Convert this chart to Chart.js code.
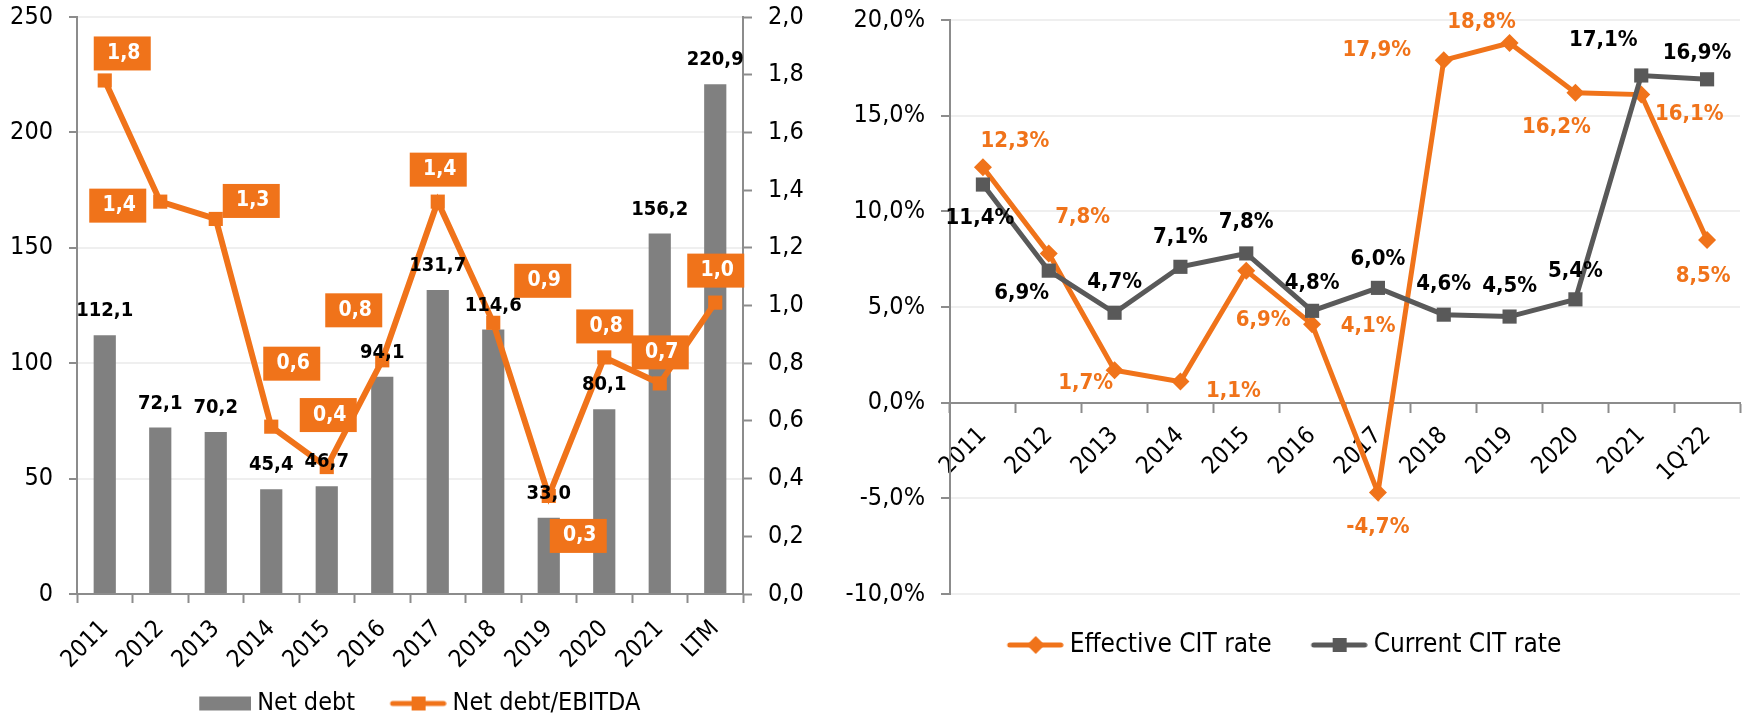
<!DOCTYPE html>
<html>
<head>
<meta charset="utf-8">
<script src="https://cdn.jsdelivr.net/npm/chart.js@4.4.1/dist/chart.umd.min.js"></script>
<style>
  html, body { margin: 0; padding: 0; background: #fff; overflow: hidden; }
  #left { position: absolute; left: 0; top: 0; width: 810px; height: 726px; }
  #right { position: absolute; left: 827px; top: 0; width: 935px; height: 718px; }
</style>
</head>
<body>
<div id="left"><canvas id="debtChart"></canvas></div>
<div id="right"><canvas id="citChart"></canvas></div>
<script>
// Left chart data
const debtYears = ['2011', '2012', '2013', '2014', '2015', '2016', '2017', '2018', '2019', '2020', '2021', 'LTM'];
const netDebt = [112.1, 72.1, 70.2, 45.4, 46.7, 94.1, 131.7, 114.6, 33.0, 80.1, 156.2, 220.9];
const netDebtEbitda = [1.78, 1.36, 1.30, 0.58, 0.44, 0.81, 1.36, 0.94, 0.34, 0.82, 0.73, 1.01];

// Right chart data
const citYears = ['2011', '2012', '2013', '2014', '2015', '2016', '2017', '2018', '2019', '2020', '2021', "1Q'22"];
const effectiveCit = [12.3, 7.8, 1.7, 1.1, 6.9, 4.1, -4.7, 17.9, 18.8, 16.2, 16.1, 8.5];
const currentCit = [11.4, 6.9, 4.7, 7.1, 7.8, 4.8, 6.0, 4.6, 4.5, 5.4, 17.1, 16.9];

// where each value label sits, relative to its point (px)
const ratioShift = [[17,-27],[-43,4],[35,-18],[20,-63],[1,-52],[-29,-50],[0,-32],[49,-42],[29,40],[0,-31],[0,-31],[0,-32]];
const effShift = [[32,-26],[34,-36],[-29,13],[53,10],[17,50],[56,2],[0,35],[-67,-10],[-28,-21],[-19,35],[48,20],[-4,36]];
const curShift = [[-3,34],[-27,23],[0,-30],[0,-30],[0,-31],[0,-28],[0,-29],[0,-30],[0,-30],[0,-28],[-38,-35],[-10,-26]];

const ORANGE = '#f0731a';
const BAR_GREY = '#808080';
const DARK = '#595959';
const AXIS = '#8c8c8c';
const GRID = '#efefef';
const FONT = "'DejaVu Sans Condensed', 'DejaVu Sans', sans-serif";

const comma = v => v.toFixed(1).replace('.', ',');
const pct = v => comma(v) + '%';

// value labels drawn on top of the datasets
function valueLabels(sets) {
  return {
    id: 'valueLabels',
    afterDatasetsDraw(chart) {
      const ctx = chart.ctx;
      sets.forEach(set => {
        const meta = chart.getDatasetMeta(set.dataset);
        const values = chart.data.datasets[set.dataset].data;
        meta.data.forEach((el, i) => {
          const d = set.shift ? set.shift[i] : [0, set.dy];
          const x = el.x + d[0], y = el.y + d[1];
          ctx.save();
          ctx.font = set.font;
          ctx.textAlign = 'center';
          ctx.textBaseline = 'middle';
          if (set.box) {
            ctx.fillStyle = set.box;
            ctx.fillRect(x - 28, y - 17, 57, 34);
          }
          ctx.fillStyle = set.color;
          ctx.fillText(set.format(values[i]), x + (set.box ? 2 : 0), y);
          ctx.restore();
        });
      });
    }
  };
}

// legend markers: drawn at the right end of a wider transparent image
function marker(kind, color, w) {
  const c = document.createElement('canvas');
  c.width = w; c.height = 22;
  const g = c.getContext('2d');
  g.fillStyle = color;
  g.strokeStyle = color;
  if (kind === 'bar') {
    g.fillRect(w - 52, 4, 52, 14);
    return c;
  }
  g.lineWidth = 5;
  g.lineCap = 'round';
  g.beginPath(); g.moveTo(w - 54, 11); g.lineTo(w - 3, 11); g.stroke();
  const cx = w - 28;
  if (kind === 'square') {
    g.fillRect(cx - 7, 4, 14, 14);
  } else {
    g.beginPath(); g.moveTo(cx, 2); g.lineTo(cx + 9, 11); g.lineTo(cx, 20); g.lineTo(cx - 9, 11); g.closePath(); g.fill();
  }
  return c;
}

function legendItems(markers) {
  return chart => chart.data.datasets.map((ds, i) => ({
    text: ds.label, pointStyle: markers[i], fillStyle: 'rgba(0,0,0,0)',
    strokeStyle: 'rgba(0,0,0,0)', lineWidth: 0, hidden: false, datasetIndex: i
  }));
}

// fixed axis width, no extra room for the end tick labels
const fixWidth = w => s => { s.width = w; s.paddingTop = 0; s.paddingBottom = 0; };

const tickFont = { family: FONT, size: 25 };

new Chart(document.getElementById('debtChart'), {
  type: 'bar',
  data: {
    labels: debtYears,
    datasets: [{
      type: 'bar',
      label: 'Net debt',
      data: netDebt,
      yAxisID: 'y',
      backgroundColor: BAR_GREY,
      barPercentage: 0.4,
      categoryPercentage: 1,
      order: 1
    }, {
      type: 'line',
      label: 'Net debt/EBITDA',
      data: netDebtEbitda,
      yAxisID: 'y1',
      borderColor: ORANGE,
      backgroundColor: ORANGE,
      borderWidth: 6,
      pointStyle: 'rect',
      pointRadius: 10,
      pointBorderWidth: 0,
      pointBackgroundColor: ORANGE,
      order: 0
    }]
  },
  options: {
    responsive: true,
    maintainAspectRatio: false,
    animation: false,
    layout: { padding: { top: 17, left: 0, right: 0, bottom: 0 } },
    plugins: {
      tooltip: { enabled: false },
      legend: {
        position: 'bottom',
        labels: {
          usePointStyle: true, pointStyleWidth: 75, padding: 10, color: '#000',
          font: { family: FONT, size: 25 },
          generateLabels: legendItems([marker('bar', BAR_GREY, 88), marker('square', ORANGE, 88)])
        }
      }
    },
    scales: {
      x: {
        grid: { offset: true, drawOnChartArea: false, tickLength: 9, tickColor: AXIS, tickWidth: 2 },
        border: { color: AXIS, width: 2 },
        ticks: { color: '#000', font: { family: FONT, size: 24 }, minRotation: 45, maxRotation: 45, padding: 12, autoSkip: false },
        afterFit: s => { s.height = 87; }
      },
      y: {
        min: 0, max: 250,
        ticks: { stepSize: 50, color: '#000', font: tickFont, padding: 16 },
        grid: { color: GRID, lineWidth: 2, tickColor: AXIS, tickLength: 8, tickWidth: 2 },
        border: { color: AXIS, width: 2 },
        afterFit: fixWidth(77)
      },
      y1: {
        position: 'right',
        min: 0, max: 2,
        ticks: { stepSize: 0.2, color: '#000', font: tickFont, padding: 16, callback: v => comma(v) },
        grid: { drawOnChartArea: false, tickColor: AXIS, tickLength: 9, tickWidth: 2 },
        border: { color: AXIS, width: 2 },
        afterFit: fixWidth(67)
      }
    }
  },
  plugins: [valueLabels([
    { dataset: 0, dy: -24, font: 'bold 20px ' + FONT, color: '#000', format: comma },
    { dataset: 1, shift: ratioShift, font: 'bold 21px ' + FONT, color: '#fff', box: ORANGE, format: comma }
  ])]
});

new Chart(document.getElementById('citChart'), {
  type: 'line',
  data: {
    labels: citYears,
    datasets: [{
      label: 'Effective CIT rate',
      data: effectiveCit,
      borderColor: ORANGE,
      backgroundColor: ORANGE,
      borderWidth: 5,
      pointStyle: 'rectRot',
      pointRadius: 9,
      pointBorderWidth: 0,
      pointBackgroundColor: ORANGE,
      order: 1
    }, {
      label: 'Current CIT rate',
      data: currentCit,
      borderColor: DARK,
      backgroundColor: DARK,
      borderWidth: 5,
      pointStyle: 'rect',
      pointRadius: 10,
      pointBorderWidth: 0,
      pointBackgroundColor: DARK,
      order: 0
    }]
  },
  options: {
    responsive: true,
    maintainAspectRatio: false,
    animation: false,
    layout: { padding: { top: 20, left: 0, right: 22, bottom: 50 } },
    plugins: {
      tooltip: { enabled: false },
      legend: {
        position: 'bottom',
        labels: {
          usePointStyle: true, pointStyleWidth: 51, padding: 38, color: '#000',
          font: { family: FONT, size: 26 },
          generateLabels: legendItems([marker('diamond', ORANGE, 65), marker('square', DARK, 65)])
        }
      }
    },
    scales: {
      x: {
        offset: true,
        position: { y: 0 },
        grid: { offset: true, drawOnChartArea: false, tickLength: 9, tickColor: AXIS, tickWidth: 2 },
        border: { color: AXIS, width: 2 },
        ticks: { color: '#000', font: { family: FONT, size: 24 }, minRotation: 45, maxRotation: 45, padding: 10, autoSkip: false }
      },
      y: {
        min: -10, max: 20,
        ticks: { stepSize: 5, color: '#000', font: tickFont, padding: 16, callback: v => pct(v) },
        grid: { color: GRID, lineWidth: 2, tickColor: AXIS, tickLength: 9, tickWidth: 2 },
        border: { color: AXIS, width: 2 },
        afterFit: fixWidth(123)
      }
    }
  },
  plugins: [valueLabels([
    { dataset: 0, shift: effShift, font: 'bold 22px ' + FONT, color: ORANGE, format: pct },
    { dataset: 1, shift: curShift, font: 'bold 22px ' + FONT, color: '#000', format: pct }
  ])]
});
</script>
</body>
</html>
